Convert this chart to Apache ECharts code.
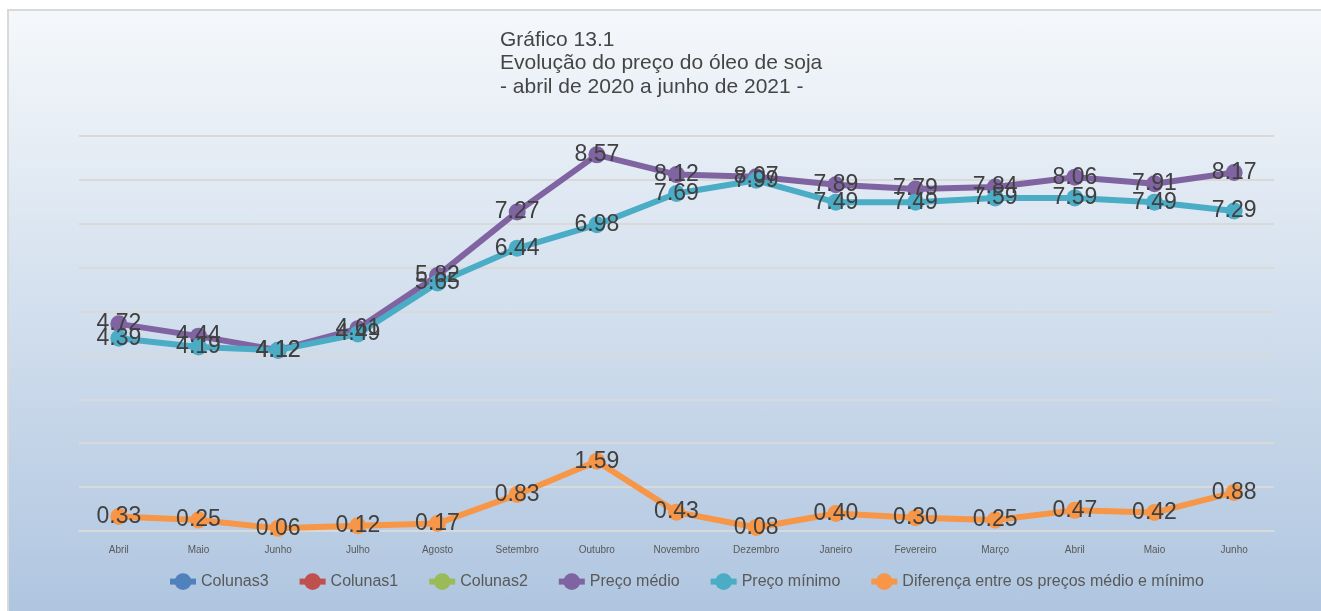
<!DOCTYPE html>
<html>
<head>
<meta charset="utf-8">
<script src="https://cdn.jsdelivr.net/npm/echarts@6/dist/echarts.min.js"></script>
<style>
  body { margin: 0; background: #fff; }
  #wrap { position: relative; width: 1321px; height: 611px; overflow: hidden; }
  #bg { position: absolute; left: 7px; top: 9px; width: 1330px; height: 620px;
        border: 2px solid #d9d9d9; background: linear-gradient(#f5f8fb, #adc4df); }
  #main { position: absolute; left: 0; top: 0; width: 1321px; height: 611px; }
</style>
</head>
<body>
<div id="wrap">
  <div id="bg"></div>
  <div id="main"></div>
</div>
<script>
// meses de abril/2020 a junho/2021
var meses = ['Abril', 'Maio', 'Junho', 'Julho', 'Agosto', 'Setembro', 'Outubro', 'Novembro',
             'Dezembro', 'Janeiro', 'Fevereiro', 'Março', 'Abril', 'Maio', 'Junho'];
var precoMedio = [4.72, 4.44, 4.12, 4.61, 5.82, 7.27, 8.57, 8.12, 8.07, 7.89, 7.79, 7.84, 8.06, 7.91, 8.17];
var precoMinimo = [4.39, 4.19, 4.12, 4.49, 5.65, 6.44, 6.98, 7.69, 7.99, 7.49, 7.49, 7.59, 7.59, 7.49, 7.29];
var diferenca = [0.33, 0.25, 0.06, 0.12, 0.17, 0.83, 1.59, 0.43, 0.08, 0.40, 0.30, 0.25, 0.47, 0.42, 0.88];

var myChart = echarts.init(document.getElementById('main'));

function serie(nome, cor, dados) {
    return {
        name: nome,
        type: 'line',
        data: dados,
        symbol: 'circle',
        symbolSize: 17,
        itemStyle: { color: cor },
        lineStyle: { color: cor, width: 6 },
        label: {
            show: dados.length > 0,
            position: 'inside',
            color: '#404040',
            fontSize: 23,
            fontFamily: 'Liberation Sans',
            formatter: function (p) { return p.value.toFixed(2); }
        },
        animation: false
    };
}

var option = {
    title: {
        text: 'Gráfico 13.1\nEvolução do preço do óleo de soja\n- abril de 2020 a junho de 2021 -',
        left: 495,
        top: 23,
        textStyle: {
            color: '#454545',
            fontSize: 21,
            fontWeight: 'normal',
            fontFamily: 'Liberation Sans',
            lineHeight: 23.5
        }
    },
    legend: {
        bottom: 16,
        left: 162,
        itemWidth: 26,
        itemHeight: 21,
        itemGap: 28,
        lineStyle: { width: 6 },
        textStyle: { color: '#595959', fontSize: 16, fontFamily: 'Liberation Sans' },
        data: ['Colunas3', 'Colunas1', 'Colunas2', 'Preço médio', 'Preço mínimo',
               'Diferença entre os preços médio e mínimo']
    },
    grid: { left: 79, right: 47, top: 136, bottom: 80 },
    xAxis: {
        type: 'category',
        data: meses,
        axisLine: { lineStyle: { color: '#d9d9d9', width: 2 } },
        axisTick: { show: false },
        axisLabel: { color: '#595959', fontSize: 10, fontFamily: 'Liberation Sans', margin: 14 }
    },
    yAxis: {
        type: 'value',
        min: 0,
        max: 9,
        interval: 1,
        axisLabel: { show: false },
        axisLine: { show: false },
        axisTick: { show: false },
        splitLine: { lineStyle: { color: '#d9d9d9', width: 2 } }
    },
    series: [
        serie('Colunas3', '#4f81bd', []),
        serie('Colunas1', '#c0504d', []),
        serie('Colunas2', '#9bbb59', []),
        serie('Preço médio', '#8064a2', precoMedio),
        serie('Preço mínimo', '#4bacc6', precoMinimo),
        serie('Diferença entre os preços médio e mínimo', '#f79646', diferenca)
    ]
};

myChart.setOption(option);
</script>
</body>
</html>
